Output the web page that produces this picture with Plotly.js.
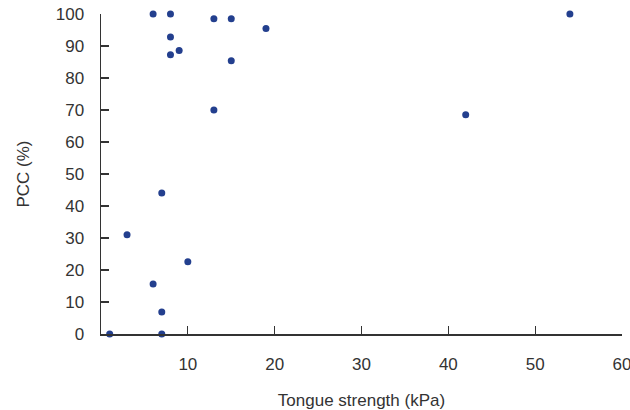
<!DOCTYPE html>
<html>
<head>
<meta charset="utf-8">
<script src="https://cdn.plot.ly/plotly-3.0.1.min.js"></script>
<style>html,body{margin:0;padding:0;background:#fff;}#chart{width:630px;height:410px;}</style>
</head>
<body>
<div id="chart"></div>
<script>
var tongueStrength = [6, 8, 13, 15, 19, 8, 9, 8, 15, 13, 7, 54, 42, 3, 10, 6, 7, 1, 7];
var pccPercent = [100, 100, 98.5, 98.5, 95.5, 92.8, 88.6, 87.3, 85.4, 70, 44.1, 100, 68.5, 31, 22.6, 15.6, 6.9, 0, 0];
var xTicks = [10, 20, 30, 40, 50, 60];
var yTicks = [0, 10, 20, 30, 40, 50, 60, 70, 80, 90, 100];

var fontFam = 'Liberation Sans, Arial, sans-serif';
var trace = {
  x: tongueStrength,
  y: pccPercent,
  type: 'scatter',
  mode: 'markers',
  marker: {color: '#233f8e', size: 7},
  cliponaxis: false,
  hoverinfo: 'none'
};
var layout = {
  width: 630, height: 410,
  margin: {l: 101, r: 8, t: 14, b: 76},
  paper_bgcolor: '#fff', plot_bgcolor: '#fff',
  showlegend: false,
  font: {family: fontFam, size: 17, color: '#333'},
  xaxis: {
    range: [0, 60], tickvals: xTicks, ticktext: xTicks.map(String),
    ticks: 'inside', ticklen: 8, tickwidth: 1.3, tickcolor: '#333',
    showline: true, linecolor: '#333', linewidth: 1.5,
    showgrid: false, zeroline: false,
    ticklabelstandoff: 14, ticklabeloverflow: 'allow',
    title: {text: 'Tongue strength (kPa)', font: {size: 17, color: '#333'}, standoff: 22}
  },
  yaxis: {
    range: [0, 100], tickvals: yTicks, ticktext: yTicks.map(String),
    ticks: 'inside', ticklen: 8, tickwidth: 1.3, tickcolor: '#333',
    showline: true, linecolor: '#333', linewidth: 1.5,
    showgrid: false, zeroline: false,
    ticklabelstandoff: 12, ticklabeloverflow: 'allow',
    title: {text: 'PCC (%)', font: {size: 17, color: '#333'}, standoff: 22}
  }
};
Plotly.newPlot('chart', [trace], layout, {displayModeBar: false, staticPlot: true});
</script>
</body>
</html>
